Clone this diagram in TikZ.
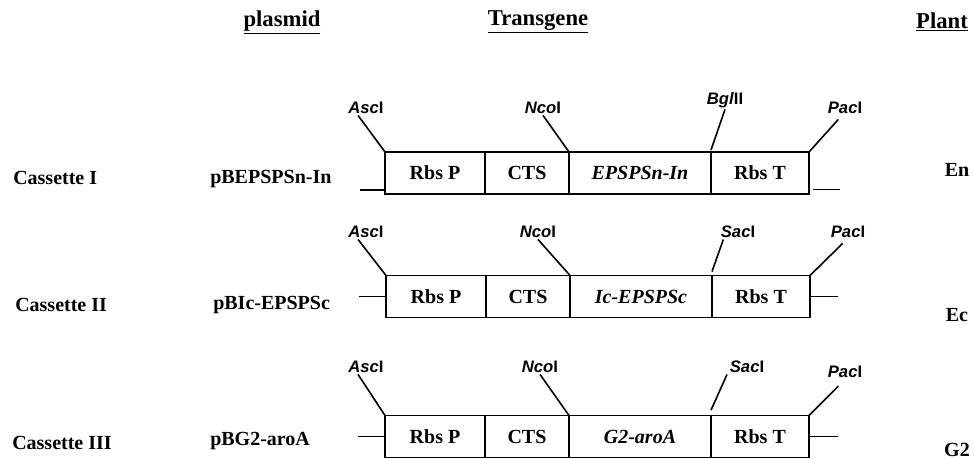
\documentclass[tikz,border=0pt]{standalone}
\usepackage{fontspec}
\setmainfont{Liberation Serif}
\newfontfamily\enzfont{Liberation Sans}
\usepackage{tikz}
\usetikzlibrary{positioning}
\tikzstyle{part} = [rectangle, draw=black, line width=1.3pt, minimum height=31.5pt, inner sep=0pt, outer sep=0pt, text centered, font=\fontsize{15}{17}\selectfont\bfseries]
\tikzstyle{pbox} = [part, minimum width=75pt]
\tikzstyle{cbox} = [part, minimum width=63pt]
\tikzstyle{gbox} = [part, minimum width=106.5pt]
\tikzstyle{tbox} = [part, minimum width=73.5pt]
\tikzstyle{enzyme} = [inner sep=1pt, font=\enzfont\fontsize{12.5}{14}\selectfont\bfseries]
\tikzstyle{rowtext} = [inner sep=0pt, font=\fontsize{15}{17}\selectfont\bfseries]
\tikzstyle{head} = [inner sep=0pt, font=\fontsize{17}{19}\selectfont\bfseries]
\tikzstyle{site} = [line width=1.2pt]

\begin{document}
\begin{tikzpicture}[x=0.75pt, y=0.75pt]
    \useasboundingbox (0,0) rectangle (974,459);

    % Headers
    \node (hplasmid) [head] at (282,437) {\underline{plasmid}};
    \node (htrans) [head] at (538,437) {\underline{Transgene}};
    \node (hplant) [head] at (942,437) {\underline{Plant}};

    % Cassette I
    \node (cas1) [rowtext, anchor=west] at (13,281) {Cassette I};
    \node (pla1) [rowtext, anchor=west] at (210,280) {pBEPSPSn-In};
    \node (rbsp1) [pbox, anchor=west] at (385,286) {Rbs P};
    \node (cts1) [cbox, right=0pt of rbsp1] {CTS};
    \node (gene1) [gbox, right=0pt of cts1] {\textit{EPSPSn-In}};
    \node (rbst1) [tbox, right=0pt of gene1] {Rbs T};
    \node (asc1) [enzyme] at (366,351) {\textit{Asc}I};
    \node (nco1) [enzyme] at (543,351) {\textit{Nco}I};
    \node (bgl1) [enzyme] at (725,359) {\textit{Bgl}II};
    \node (pac1) [enzyme] at (845,351) {\textit{Pac}I};
    \node (plant1) [rowtext] at (957,289) {En};

    \draw [site] ([yshift=3pt]rbsp1.south west) -- ++(-25,0);
    \draw [site] ([xshift=3pt, yshift=3.5pt]rbst1.south east) -- ++(27,0);
    \draw [site] ([xshift=-6pt]asc1.south) -- (rbsp1.north west);
    \draw [site] (nco1.south) -- (gene1.north west);
    \draw [site] (bgl1.south) -- ([yshift=1.5pt]rbst1.north west);
    \draw [site] ([xshift=-5pt, yshift=-3pt]pac1.south) -- (rbst1.north east);

    % Cassette II
    \node (cas2) [rowtext, anchor=west] at (15,154) {Cassette II};
    \node (pla2) [rowtext, anchor=west] at (213,154) {pBIc-EPSPSc};
    \node (rbsp2) [pbox, anchor=west] at (386,162.5) {Rbs P};
    \node (cts2) [cbox, right=0pt of rbsp2] {CTS};
    \node (gene2) [gbox, right=0pt of cts2] {\textit{Ic-EPSPSc}};
    \node (rbst2) [tbox, right=0pt of gene2] {Rbs T};
    \node (asc2) [enzyme] at (366,227) {\textit{Asc}I};
    \node (nco2) [enzyme] at (538,227) {\textit{Nco}I};
    \node (sac2) [enzyme] at (738,227) {\textit{Sac}I};
    \node (pac2) [enzyme] at (848,227) {\textit{Pac}I};
    \node (plant2) [rowtext] at (957,144) {Ec};

    \draw [site] (rbsp2.west) -- ++(-27,0);
    \draw [site] (rbst2.east) -- ++(28,0);
    \draw [site] ([xshift=-6pt]asc2.south) -- (rbsp2.north west);
    \draw [site] (nco2.south) -- (gene2.north west);
    \draw [site] ([xshift=-11pt]sac2.south) -- ([yshift=3pt]rbst2.north west);
    \draw [site] ([xshift=-4pt, yshift=-3pt]pac2.south) -- (rbst2.north east);

    % Cassette III
    \node (cas3) [rowtext, anchor=west] at (12,16) {Cassette III};
    \node (pla3) [rowtext, anchor=west] at (210,18) {pBG2-aroA};
    \node (rbsp3) [pbox, anchor=west] at (385,22.5) {Rbs P};
    \node (cts3) [cbox, right=0pt of rbsp3] {CTS};
    \node (gene3) [gbox, right=0pt of cts3] {\textit{G2-aroA}};
    \node (rbst3) [tbox, right=0pt of gene3] {Rbs T};
    \node (asc3) [enzyme] at (366,92) {\textit{Asc}I};
    \node (nco3) [enzyme] at (540,92) {\textit{Nco}I};
    \node (sac3) [enzyme] at (747,92) {\textit{Sac}I};
    \node (pac3) [enzyme] at (845,87) {\textit{Pac}I};
    \node (plant3) [rowtext] at (957,9) {G2};

    \draw [site] (rbsp3.west) -- ++(-27,0);
    \draw [site] (rbst3.east) -- ++(29,0);
    \draw [site] ([xshift=-6pt]asc3.south) -- (rbsp3.north west);
    \draw [site] (nco3.south) -- (gene3.north west);
    \draw [site] ([xshift=-15pt]sac3.south) -- ([yshift=4pt]rbst3.north west);
    \draw [site] ([xshift=-5pt, yshift=-5pt]pac3.south) -- (rbst3.north east);

\end{tikzpicture}
\end{document}
